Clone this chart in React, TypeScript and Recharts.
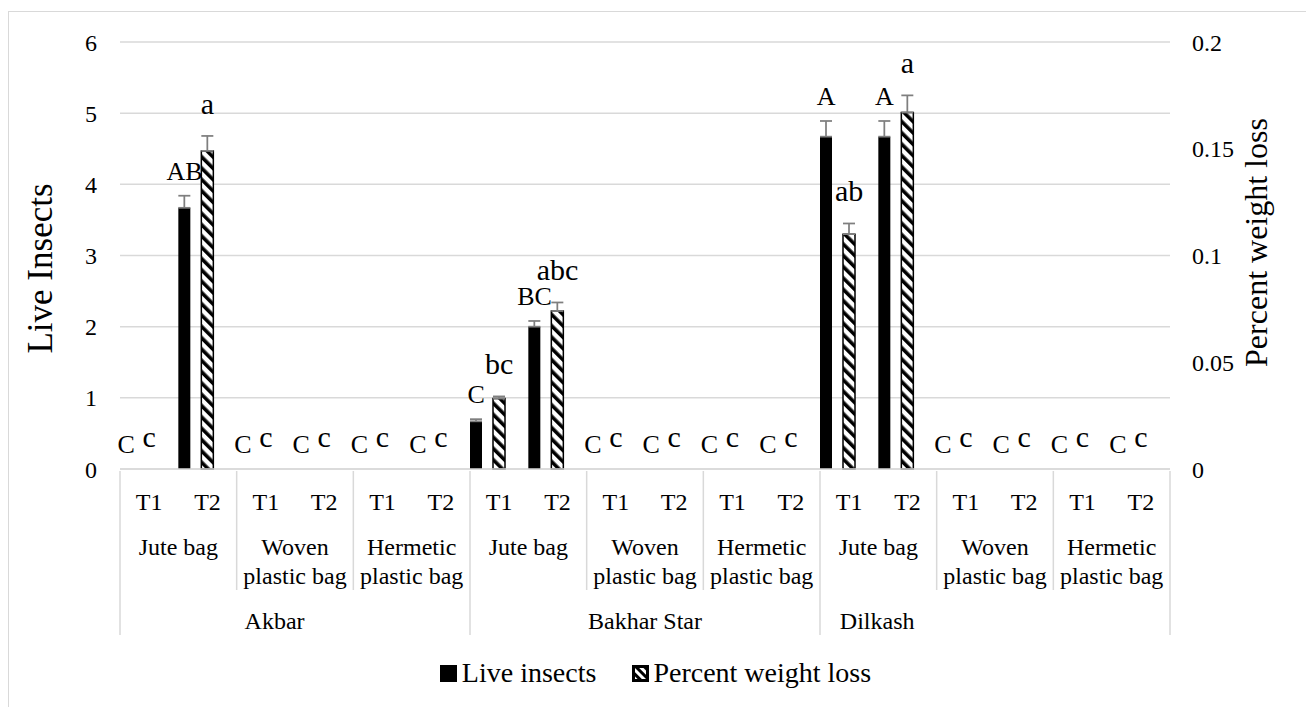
import React from 'react';
import { ComposedChart, Bar, Scatter, XAxis, YAxis, CartesianGrid, Legend, ErrorBar } from 'recharts';

// category levels
const varieties = ['Akbar', 'Bakhar Star', 'Dilkash'];
const bags = [['Jute bag'], ['Woven', 'plastic bag'], ['Hermetic', 'plastic bag']];
const treatments = ['T1', 'T2'];

// live insects (left axis)
const liveInsects = [0, 3.67, 0, 0, 0, 0, 0.67, 2.0, 0, 0, 0, 0, 4.67, 4.67, 0, 0, 0, 0];
const liveErr = [0, 0.17, 0, 0, 0, 0, 0.03, 0.08, 0, 0, 0, 0, 0.22, 0.22, 0, 0, 0, 0];
const liveLetters = ['C', 'AB', 'C', 'C', 'C', 'C', 'C', 'BC', 'C', 'C', 'C', 'C', 'A', 'A', 'C', 'C', 'C', 'C'];

// percent weight loss (right axis)
const weightLoss = [0, 0.149, 0, 0, 0, 0, 0.033, 0.074, 0, 0, 0, 0, 0.11, 0.167, 0, 0, 0, 0];
const lossErr = [0, 0.007, 0, 0, 0, 0, 0.001, 0.004, 0, 0, 0, 0, 0.005, 0.008, 0, 0, 0, 0];
const lossLetters = ['c', 'a', 'c', 'c', 'c', 'c', 'bc', 'abc', 'c', 'c', 'c', 'c', 'ab', 'a', 'c', 'c', 'c', 'c'];

const liveTicks = [0, 1, 2, 3, 4, 5, 6];
const lossTicks = [0, 0.05, 0.1, 0.15, 0.2];

const FONT = "'Liberation Serif', 'Times New Roman', serif";
const GRID = '#d9d9d9';

const CHART_W = 1303;
const CHART_H = 690;
const LEFT_W = 111;
const RIGHT_W = 142;
const TOP = 30;
const XAXIS_H = 175;
const LEGEND_H = 58;
const PLOT_W = CHART_W - LEFT_W - RIGHT_W;
const BAND = PLOT_W / liveInsects.length;
const BAR = 12;
const BAR_GAP = 11;
// where Excel put each variety name, in bands from the group start
const VARIETY_LABEL_AT = [2.65, 3, 0.98];

const rows = liveInsects.map((v, i) => {
  const variety = varieties[Math.floor(i / 6)];
  const bag = bags[Math.floor(i / 2) % 3].join(' ');
  const t = treatments[i % 2];
  return {
    key: `${variety} ${bag} ${t}`,
    treatment: t,
    live: v,
    liveE: liveErr[i],
    liveErr: liveErr[i] ? [0, liveErr[i]] : 0,
    liveLetter: liveLetters[i],
    loss: weightLoss[i],
    lossE: lossErr[i],
    lossErr: lossErr[i] ? [0, lossErr[i]] : 0,
    lossLetter: lossLetters[i],
  };
});

function CategoryTick(props: any) {
  const { x, y, index } = props;
  const line = (lx: number, len: number) => (
    <line x1={lx} x2={lx} y1={y} y2={y + len} stroke={GRID} strokeWidth={1.5} />
  );
  const bag = bags[Math.floor(index / 2) % 3];
  const groupStart = x - BAND / 2;
  return (
    <g fill="#000">
      <text x={x} y={y + 39} textAnchor="middle" fontSize={24}>
        {rows[index].treatment}
      </text>
      {index % 2 === 0 && line(groupStart, index % 6 === 0 ? 164 : 119)}
      {index % 2 === 0 &&
        bag.map((s, k) => (
          <text key={s} x={x + BAND / 2} y={y + 84 + k * 29} textAnchor="middle" fontSize={24}>
            {s}
          </text>
        ))}
      {index % 6 === 0 && (
        <text x={groupStart + VARIETY_LABEL_AT[index / 6] * BAND} y={y + 158} textAnchor="middle" fontSize={24}>
          {varieties[index / 6]}
        </text>
      )}
      {index === rows.length - 1 && line(x + BAND / 2, 164)}
    </g>
  );
}

// significance letters, drawn above the error bar of each bar
const letterShape = (field: string, dx: number, size: number, gap: number) => (props: any) => {
  const { cx, cy, payload } = props;
  if (cx == null || cy == null) return <g />;
  return (
    <text x={cx + dx} y={cy - gap} textAnchor="middle" fontSize={size} fill="#000">
      {payload[field]}
    </text>
  );
};

function TitleLabel(props: any) {
  const { viewBox, text, dx, dy, size } = props;
  const x = viewBox.x + dx;
  const y = viewBox.y + viewBox.height / 2 + dy;
  return (
    <text
      x={x}
      y={y}
      transform={`rotate(-90 ${x} ${y})`}
      textAnchor="middle"
      dominantBaseline="central"
      fontSize={size}
      fill="#000"
    >
      {text}
    </text>
  );
}

function HatchIcon() {
  return (
    <svg width={17} height={17} style={{ marginRight: 4 }}>
      <defs>
        <pattern id="hatchIcon" patternUnits="userSpaceOnUse" width={6} height={6} patternTransform="rotate(-45)">
          <rect width={6} height={6} fill="#fff" />
          <rect width={3} height={6} fill="#000" />
        </pattern>
      </defs>
      <rect x={1.5} y={1.5} width={14} height={14} fill="url(#hatchIcon)" stroke="#000" strokeWidth={3} />
    </svg>
  );
}

function LegendBox() {
  return (
    <div
      style={{
        display: 'flex',
        justifyContent: 'center',
        alignItems: 'center',
        height: LEGEND_H,
        fontFamily: FONT,
        fontSize: 28,
        color: '#000',
        paddingRight: 10,
      }}
    >
      <span style={{ display: 'flex', alignItems: 'center', marginRight: 36 }}>
        <span style={{ width: 17, height: 17, background: '#000', display: 'inline-block', marginRight: 5 }} />
        Live insects
      </span>
      <span style={{ display: 'flex', alignItems: 'center' }}>
        <HatchIcon />
        Percent weight loss
      </span>
    </div>
  );
}

export default function App() {
  return (
    <div style={{ paddingTop: 3 }}>
      <style>{`html, body { overflow: hidden; }
.recharts-wrapper, .recharts-wrapper text { font-family: ${FONT} !important; }`}</style>
      <div style={{ width: CHART_W, height: 700, border: `1px solid ${GRID}`, background: '#fff' }}>
        <ComposedChart
          width={CHART_W}
          height={CHART_H}
          data={rows}
          margin={{ top: TOP, right: 0, left: 0, bottom: 0 }}
          barSize={BAR}
          barGap={BAR_GAP}
        >
          <defs>
            <pattern id="hatch" patternUnits="userSpaceOnUse" width={8} height={8} patternTransform="rotate(-45)">
              <rect width={8} height={8} fill="#fff" />
              <rect width={3.6} height={8} fill="#000" />
            </pattern>
          </defs>
          <CartesianGrid yAxisId="left" vertical={false} stroke={GRID} strokeWidth={1.5} />
          <XAxis
            dataKey="key"
            interval={0}
            height={XAXIS_H}
            tickSize={0}
            tickLine={false}
            axisLine={{ stroke: GRID, strokeWidth: 1.5 }}
            tick={<CategoryTick />}
          />
          <YAxis
            yAxisId="left"
            domain={[0, 6]}
            ticks={liveTicks}
            width={LEFT_W}
            tickSize={0}
            tickMargin={23}
            axisLine={false}
            tickLine={false}
            tick={{ fontSize: 24, fill: '#000' }}
            label={<TitleLabel text="Live Insects" dx={31} dy={13} size={35} />}
          />
          <YAxis
            yAxisId="right"
            orientation="right"
            domain={[0, 0.2]}
            ticks={lossTicks}
            width={RIGHT_W}
            tickSize={0}
            tickMargin={22}
            axisLine={false}
            tickLine={false}
            tick={{ fontSize: 24, fill: '#000', textAnchor: 'start' }}
            label={<TitleLabel text="Percent weight loss" dx={86} dy={-13} size={32} />}
          />
          <Legend verticalAlign="bottom" height={LEGEND_H} content={() => <LegendBox />} />
          <Bar yAxisId="left" dataKey="live" name="Live insects" fill="#000" isAnimationActive={false}>
            <ErrorBar dataKey="liveErr" width={6} stroke="#7f7f7f" strokeWidth={1.75} direction="y" />
          </Bar>
          <Bar
            yAxisId="right"
            dataKey="loss"
            name="Percent weight loss"
            fill="url(#hatch)"
            stroke="#000"
            strokeWidth={1.5}
            isAnimationActive={false}
          >
            <ErrorBar dataKey="lossErr" width={6} stroke="#7f7f7f" strokeWidth={1.75} direction="y" />
          </Bar>
          {/* empty slot so the two series sit left of the category centre, as in the original */}
          <Bar yAxisId="right" dataKey="spacer" fill="none" legendType="none" isAnimationActive={false} />
          <Scatter
            yAxisId="left"
            dataKey={(d: any) => d.live + d.liveE}
            legendType="none"
            isAnimationActive={false}
            shape={letterShape('liveLetter', -(BAR + BAR_GAP), 26, 16)}
          />
          <Scatter
            yAxisId="right"
            dataKey={(d: any) => d.loss + d.lossE}
            legendType="none"
            isAnimationActive={false}
            shape={letterShape('lossLetter', 0, 30, 22)}
          />
        </ComposedChart>
      </div>
    </div>
  );
}
